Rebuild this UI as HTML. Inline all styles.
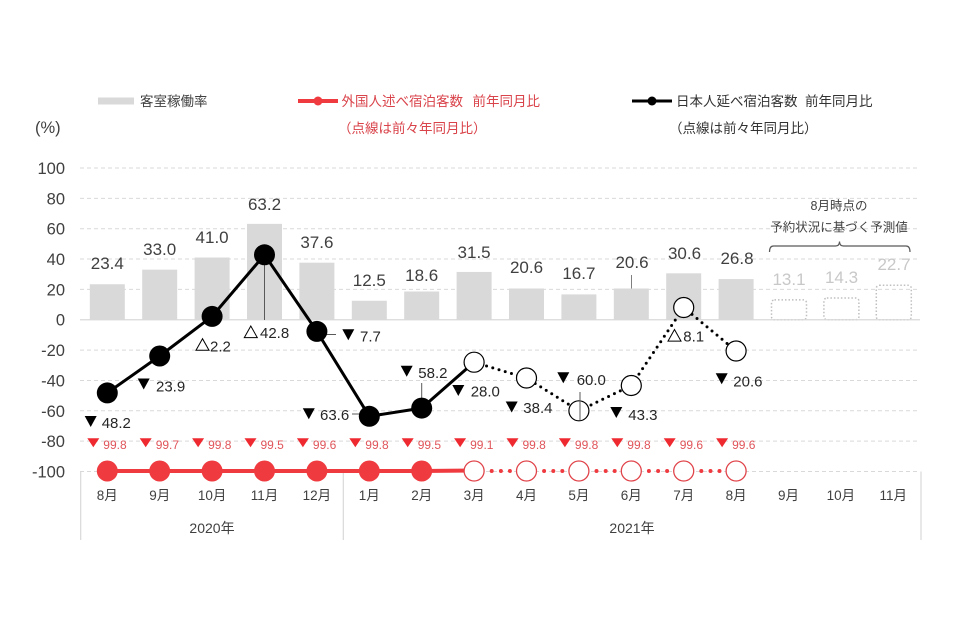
<!DOCTYPE html>
<html><head><meta charset="utf-8"><style>
html,body{margin:0;padding:0;background:#fff;}
svg{display:block;font-family:"Liberation Sans","Noto Sans CJK JP",sans-serif;}
</style></head><body>
<svg width="960" height="630" viewBox="0 0 960 630" xmlns="http://www.w3.org/2000/svg">
<rect width="960" height="630" fill="#fff"/>
<!-- legend -->
<rect x="98" y="97.5" width="36" height="7" fill="#d9d9d9"/>
<text x="140" y="106" font-size="13.5" fill="#404040">客室稼働率</text>
<line x1="298" y1="101" x2="338" y2="101" stroke="#ef3b40" stroke-width="4"/>
<circle cx="318" cy="101" r="4.5" fill="#ef3b40"/>
<text x="341.5" y="106" font-size="13.5" fill="#d9434a">外国人述べ宿泊客数</text>
<text x="472.5" y="106" font-size="13.5" fill="#d9434a">前年同月比</text>
<text x="338" y="133" font-size="13.5" fill="#d9434a">（点線は前々年同月比）</text>
<line x1="632" y1="101" x2="672" y2="101" stroke="#000" stroke-width="3"/>
<circle cx="652" cy="101" r="4.5" fill="#000"/>
<text x="676" y="106" font-size="13.5" fill="#333">日本人延べ宿泊客数</text>
<text x="805" y="106" font-size="13.5" fill="#333">前年同月比</text>
<text x="669" y="133" font-size="13.5" fill="#333">（点線は前々年同月比）</text>
<text x="35" y="133" font-size="16.5" fill="#404040">(%)</text>

<!-- gridlines -->
<g stroke="#d9d9d9" stroke-width="1" stroke-dasharray="4 3">
<line x1="80" y1="168" x2="920" y2="168"/>
<line x1="80" y1="198.35" x2="920" y2="198.35"/>
<line x1="80" y1="228.7" x2="920" y2="228.7"/>
<line x1="80" y1="259.05" x2="920" y2="259.05"/>
<line x1="80" y1="289.4" x2="920" y2="289.4"/>
<line x1="80" y1="350.1" x2="920" y2="350.1"/>
<line x1="80" y1="380.45" x2="920" y2="380.45"/>
<line x1="80" y1="410.8" x2="920" y2="410.8"/>
<line x1="80" y1="441.15" x2="920" y2="441.15"/>
<line x1="80" y1="471.5" x2="920" y2="471.5"/>
</g>
<!-- y labels -->
<g font-size="16.5" fill="#404040" text-anchor="end">
<text x="65" y="174">100</text>
<text x="65" y="204.3">80</text>
<text x="65" y="234.7">60</text>
<text x="65" y="265">40</text>
<text x="65" y="295.4">20</text>
<text x="65" y="325.7">0</text>
<text x="65" y="356.1">-20</text>
<text x="65" y="386.4">-40</text>
<text x="65" y="416.8">-60</text>
<text x="65" y="447.1">-80</text>
<text x="65" y="477.5">-100</text>
</g>

<!-- bars -->
<g fill="#d9d9d9">
<rect x="89.8" y="284.24" width="35" height="35.51"/>
<rect x="142.2" y="269.67" width="35" height="50.08"/>
<rect x="194.6" y="257.53" width="35" height="62.22"/>
<rect x="247" y="223.85" width="35" height="95.9"/>
<rect x="299.4" y="262.69" width="35" height="57.06"/>
<rect x="351.8" y="300.78" width="35" height="18.97"/>
<rect x="404.2" y="291.52" width="35" height="28.23"/>
<rect x="456.6" y="271.95" width="35" height="47.8"/>
<rect x="509" y="288.49" width="35" height="31.26"/>
<rect x="561.4" y="294.41" width="35" height="25.34"/>
<rect x="613.8" y="288.49" width="35" height="31.26"/>
<rect x="666.2" y="273.31" width="35" height="46.44"/>
<rect x="718.6" y="279.08" width="35" height="40.67"/>
</g>
<g fill="none" stroke="#bfbfbf" stroke-width="1.5" stroke-dasharray="1.5 2">
<rect x="771.5" y="299.87" width="35" height="19.88" rx="3"/>
<rect x="823.9" y="298.05" width="35" height="21.7" rx="3"/>
<rect x="876.3" y="285.3" width="35" height="34.45" rx="3"/>
</g>
<!-- zero line -->
<line x1="80" y1="319.75" x2="920" y2="319.75" stroke="#d9d9d9" stroke-width="1.2"/>

<!-- bar labels -->
<g font-size="17" fill="#404040" text-anchor="middle">
<text x="107.3" y="269">23.4</text>
<text x="159.7" y="255">33.0</text>
<text x="212.1" y="243">41.0</text>
<text x="264.5" y="210">63.2</text>
<text x="316.9" y="248">37.6</text>
<text x="369.3" y="286">12.5</text>
<text x="421.7" y="281">18.6</text>
<text x="474.1" y="258">31.5</text>
<text x="526.5" y="273">20.6</text>
<text x="578.9" y="279">16.7</text>
<text x="632" y="268">20.6</text>
<text x="684.5" y="259">30.6</text>
<text x="737" y="264">26.8</text>
</g>
<g font-size="17" fill="#c8c8c8" text-anchor="middle">
<text x="789" y="285">13.1</text>
<text x="841.5" y="283">14.3</text>
<text x="894" y="270">22.7</text>
</g>
<line x1="631.5" y1="275" x2="631.5" y2="288.5" stroke="#7f7f7f" stroke-width="1"/>

<!-- annotation -->
<g font-size="12.5" fill="#404040" text-anchor="middle">
<text x="839" y="210">8月時点の</text>
<text x="839" y="231.5">予約状況に基づく予測値</text>
</g>
<path d="M769.5,252 Q769.5,246 773.5,246 L835.5,246 Q839.5,246 839.5,241.5 Q839.5,246 843.5,246 L906,246 Q910,246 910,252" fill="none" stroke="#595959" stroke-width="1.2"/>

<!-- x axis -->
<g stroke="#d9d9d9" stroke-width="1.2">
<line x1="80.7" y1="471.5" x2="80.7" y2="540"/>
<line x1="343.3" y1="471.5" x2="343.3" y2="540"/>
<line x1="921" y1="471.5" x2="921" y2="540"/>
</g>
<g font-size="13.5" fill="#404040" text-anchor="middle">
<text x="107.3" y="500">8月</text>
<text x="159.7" y="500">9月</text>
<text x="212.1" y="500">10月</text>
<text x="264.5" y="500">11月</text>
<text x="316.9" y="500">12月</text>
<text x="369.3" y="500">1月</text>
<text x="421.7" y="500">2月</text>
<text x="474.1" y="500">3月</text>
<text x="526.5" y="500">4月</text>
<text x="578.9" y="500">5月</text>
<text x="631.3" y="500">6月</text>
<text x="683.7" y="500">7月</text>
<text x="736.1" y="500">8月</text>
<text x="788.5" y="500">9月</text>
<text x="840.9" y="500">10月</text>
<text x="893.3" y="500">11月</text>
<text x="212" y="533" font-size="14">2020年</text>
<text x="632" y="533" font-size="14">2021年</text>
</g>

<!-- leader lines black series -->
<g stroke="#595959" stroke-width="1">
<line x1="264.5" y1="255" x2="264.5" y2="320"/>
<line x1="318" y1="334.5" x2="336" y2="334.5"/>
<line x1="352" y1="414" x2="362" y2="414"/>
<line x1="421.7" y1="383" x2="421.7" y2="408"/>
</g>

<!-- red series -->
<polyline points="107.3,471 159.7,471 212.1,471 264.5,471 316.9,471 369.3,471 421.7,471 474.1,470.5" fill="none" stroke="#ef3b40" stroke-width="4"/>
<g fill="#ef3b40">
<circle cx="491.7" cy="471" r="2"/><circle cx="500.9" cy="471" r="2"/><circle cx="509.9" cy="471" r="2"/>
<circle cx="544.1" cy="471" r="2"/><circle cx="553.3" cy="471" r="2"/><circle cx="562.3" cy="471" r="2"/>
<circle cx="596.5" cy="471" r="2"/><circle cx="605.7" cy="471" r="2"/><circle cx="614.7" cy="471" r="2"/>
<circle cx="648.9" cy="471" r="2"/><circle cx="658.1" cy="471" r="2"/><circle cx="667.1" cy="471" r="2"/>
<circle cx="701.3" cy="471" r="2"/><circle cx="710.5" cy="471" r="2"/><circle cx="719.5" cy="471" r="2"/>
<circle cx="107.3" cy="471" r="10.5"/><circle cx="159.7" cy="471" r="10.5"/><circle cx="212.1" cy="471" r="10.5"/>
<circle cx="264.5" cy="471" r="10.5"/><circle cx="316.9" cy="471" r="10.5"/><circle cx="369.3" cy="471" r="10.5"/>
<circle cx="421.7" cy="471" r="10.5"/>
</g>
<g fill="#fff" stroke="#e0444a" stroke-width="1.3">
<circle cx="474.1" cy="471" r="10"/><circle cx="526.5" cy="471" r="10"/><circle cx="578.9" cy="471" r="10"/>
<circle cx="631.3" cy="471" r="10"/><circle cx="683.7" cy="471" r="10"/><circle cx="736.1" cy="471" r="10"/>
</g>
<!-- red labels -->
<g fill="#ee2a30">
<polygon points="87.3,438.3 99.3,438.3 93.3,447.3"/>
<polygon points="139.7,438.3 151.7,438.3 145.7,447.3"/>
<polygon points="192.1,438.3 204.1,438.3 198.1,447.3"/>
<polygon points="244.5,438.3 256.5,438.3 250.5,447.3"/>
<polygon points="296.9,438.3 308.9,438.3 302.9,447.3"/>
<polygon points="349.3,438.3 361.3,438.3 355.3,447.3"/>
<polygon points="401.7,438.3 413.7,438.3 407.7,447.3"/>
<polygon points="454.1,438.3 466.1,438.3 460.1,447.3"/>
<polygon points="506.5,438.3 518.5,438.3 512.5,447.3"/>
<polygon points="558.9,438.3 570.9,438.3 564.9,447.3"/>
<polygon points="611.3,438.3 623.3,438.3 617.3,447.3"/>
<polygon points="663.7,438.3 675.7,438.3 669.7,447.3"/>
<polygon points="716.1,438.3 728.1,438.3 722.1,447.3"/>
</g>
<g font-size="12" fill="#e0555a">
<text x="103.3" y="449">99.8</text>
<text x="155.7" y="449">99.7</text>
<text x="208.1" y="449">99.8</text>
<text x="260.5" y="449">99.5</text>
<text x="312.9" y="449">99.6</text>
<text x="365.3" y="449">99.8</text>
<text x="417.7" y="449">99.5</text>
<text x="470.1" y="449">99.1</text>
<text x="522.5" y="449">99.8</text>
<text x="574.9" y="449">99.8</text>
<text x="627.3" y="449">99.8</text>
<text x="679.7" y="449">99.6</text>
<text x="732.1" y="449">99.6</text>
</g>

<!-- black series -->
<polyline points="474.1,362.2 526.5,378 578.9,410.8 631.3,385.5 683.7,307.5 736.1,351" fill="none" stroke="#000" stroke-width="3" stroke-linecap="round" stroke-dasharray="0 6.5"/>
<polyline points="107.3,392.9 159.7,356 212.1,316.4 264.5,254.8 316.9,331.4 369.3,416.3 421.7,408.1 474.1,362.2" fill="none" stroke="#000" stroke-width="3" stroke-linejoin="round"/>
<g fill="#000">
<circle cx="107.3" cy="392.9" r="10.5"/>
<circle cx="159.7" cy="356" r="10.5"/>
<circle cx="212.1" cy="316.4" r="10.5"/>
<circle cx="264.5" cy="254.8" r="10.5"/>
<circle cx="316.9" cy="331.4" r="10.5"/>
<circle cx="369.3" cy="416.3" r="10.5"/>
<circle cx="421.7" cy="408.1" r="10.5"/>
</g>
<g fill="#fff" stroke="#000" stroke-width="1.2">
<circle cx="474.1" cy="362.2" r="10"/>
<circle cx="526.5" cy="378" r="10"/>
<circle cx="578.9" cy="410.8" r="10"/>
<circle cx="631.3" cy="385.5" r="10"/>
<circle cx="683.7" cy="307.5" r="10"/>
<circle cx="736.1" cy="351" r="10"/>
</g>
<line x1="580" y1="392" x2="580" y2="420" stroke="#595959" stroke-width="1"/>

<!-- black labels triangles -->
<g fill="#000">
<polygon points="84.7,416 96.7,416 90.7,427"/>
<polygon points="137.7,378.5 149.7,378.5 143.7,389.5"/>
<polygon points="342.3,329.2 354.3,329.2 348.3,340.2"/>
<polygon points="302.8,408.3 314.8,408.3 308.8,419.3"/>
<polygon points="400.7,365.8 412.7,365.8 406.7,376.8"/>
<polygon points="452.3,385 464.3,385 458.3,396"/>
<polygon points="505.7,401.5 517.7,401.5 511.7,412.5"/>
<polygon points="557.3,372.3 569.3,372.3 563.3,383.3"/>
<polygon points="610.3,407 622.3,407 616.3,418"/>
<polygon points="715.7,373.3 727.7,373.3 721.7,384.3"/>
</g>
<g fill="none" stroke="#000" stroke-width="1">
<polygon points="202.5,338.7 196,350.3 209,350.3"/>
<polygon points="250.8,326 244.3,337.6 257.3,337.6"/>
<polygon points="674.5,329.5 668,341.1 681,341.1"/>
</g>
<g font-size="15" fill="#262626">
<text x="101.7" y="428">48.2</text>
<text x="156" y="391.5">23.9</text>
<text x="210" y="351.5">2.2</text>
<text x="260" y="338">42.8</text>
<text x="360" y="341.5">7.7</text>
<text x="320" y="420">63.6</text>
<text x="418.3" y="378">58.2</text>
<text x="470.7" y="396.5">28.0</text>
<text x="523.3" y="413">38.4</text>
<text x="576.7" y="385">60.0</text>
<text x="628.3" y="420">43.3</text>
<text x="683.3" y="341.5">8.1</text>
<text x="733.3" y="386.5">20.6</text>
</g>
</svg>
</body></html>
